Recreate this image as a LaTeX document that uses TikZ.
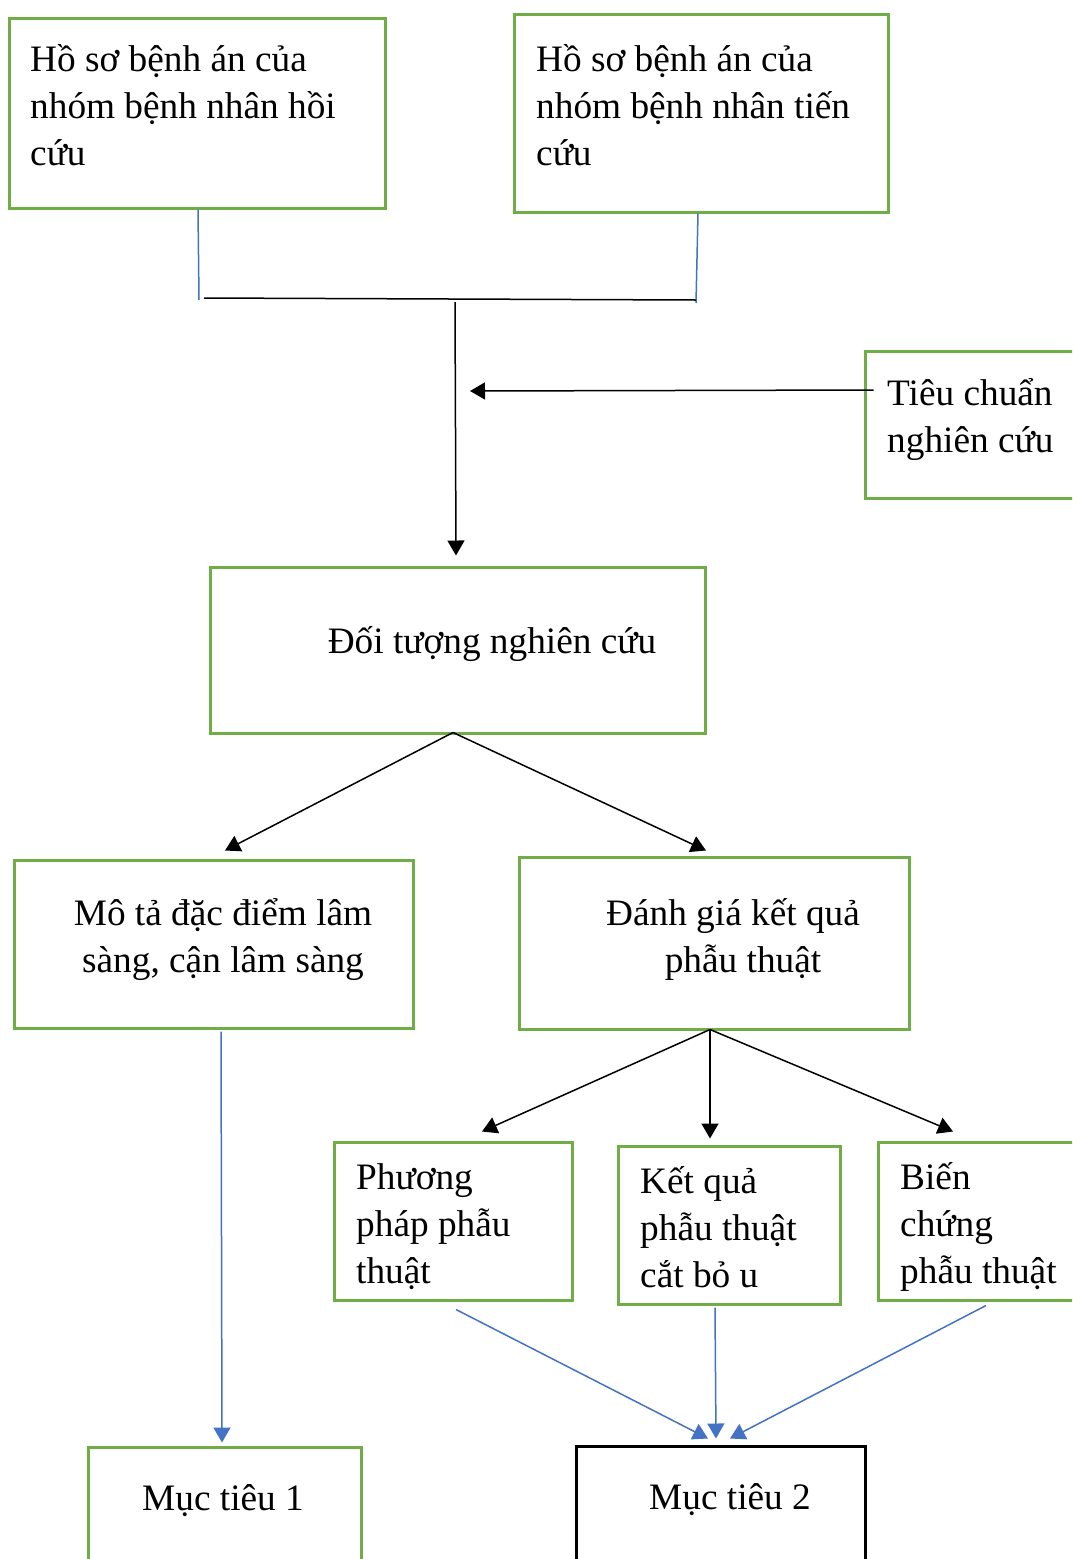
\documentclass[tikz,border=0pt]{standalone}
\usepackage{fontspec}
\setmainfont{Liberation Serif}
\usetikzlibrary{arrows.meta,calc}
\definecolor{gboxc}{HTML}{70AD47}
\definecolor{blinec}{HTML}{4472C4}
\tikzset{
  gbox/.style={draw=gboxc, line width=3pt, rectangle, inner sep=0pt},
  kbox/.style={draw=black, line width=3pt, rectangle, inner sep=0pt},
  txt/.style={inner sep=0pt, font=\fontsize{37.3}{47}\selectfont},
  kline/.style={draw=black, line width=1.5pt},
  bline/.style={draw=blinec, line width=1.5pt},
  karr/.style={kline, -{Triangle[length=15pt,width=17pt]}},
  barr/.style={bline, -{Triangle[length=15pt,width=17pt]}, blinec}
}
\begin{document}
\begin{tikzpicture}[x=1pt,y=1pt]
\useasboundingbox (0,0) rectangle (1072,-1559);
\clip (0,0) rectangle (1072,-1559);
% boxes
\node[gbox, minimum width=376pt, minimum height=190pt] (a) at (197,-113) {};
\node[gbox, minimum width=374pt, minimum height=198pt] (b) at (701,-113) {};
\node[gbox, minimum width=235pt, minimum height=147pt] (c) at (982.5,-424.5) {};
\node[gbox, minimum width=495pt, minimum height=166pt] (d) at (457.5,-650) {};
\node[gbox, minimum width=399pt, minimum height=168pt] (e) at (213.5,-944) {};
\node[gbox, minimum width=390pt, minimum height=172pt] (f) at (714,-943) {};
\node[gbox, minimum width=238pt, minimum height=158pt] (g) at (453,-1221) {};
\node[gbox, minimum width=222pt, minimum height=158pt] (h) at (729,-1225) {};
\node[gbox, minimum width=222pt, minimum height=158pt] (i) at (989,-1221) {};
\node[gbox, minimum width=273pt, minimum height=153pt] (j) at (224.5,-1523.5) {};
\node[kbox, minimum width=289pt, minimum height=154pt] (k) at (720.5,-1523) {};
% texts
\node[txt, anchor=base west] (ta) at (30,-71) {\parbox[t]{350pt}{\raggedright Hồ sơ bệnh án của\\nhóm bệnh nhân hồi\\cứu}};
\node[txt, anchor=base west] (tb) at (536,-71) {\parbox[t]{350pt}{\raggedright Hồ sơ bệnh án của\\nhóm bệnh nhân tiến\\cứu}};
\node[txt, anchor=base west] (tc) at (887,-405) {\parbox[t]{200pt}{\raggedright Tiêu chuẩn\\nghiên cứu}};
\node[txt, anchor=base] (td) at (492,-653) {Đối tượng nghiên cứu};
\node[txt, anchor=base] (te) at (223,-925) {\parbox[t]{390pt}{\centering Mô tả đặc điểm lâm\\sàng, cận lâm sàng}};
\node[txt, anchor=base] (tf) at (733,-925) {\parbox[t]{390pt}{\centering Đánh giá kết quả\\\hspace*{20pt}phẫu thuật}};
\node[txt, anchor=base west] (tg) at (356,-1189) {\parbox[t]{220pt}{\raggedright Phương\\pháp phẫu\\thuật}};
\node[txt, anchor=base west] (th) at (640,-1193) {\parbox[t]{220pt}{\raggedright Kết quả\\phẫu thuật\\cắt bỏ u}};
\node[txt, anchor=base west] (ti) at (900,-1189) {\parbox[t]{220pt}{\raggedright Biến\\chứng\\phẫu thuật}};
\node[txt, anchor=base] (tj) at (223,-1510) {Mục tiêu 1};
\node[txt, anchor=base] (tk) at (730,-1509) {Mục tiêu 2};
% junction coordinates
\coordinate (j1) at (199,-300);
\coordinate (j2) at (696,-303);
\coordinate (h1) at (204,-298);
\coordinate (h2) at (696,-300);
\coordinate (m) at (455,-302);
\coordinate (cend) at (470,-391);
% connectors
\draw[bline] ($(a.south)+(1,0)$) -- (j1);
\draw[bline] ($(b.south)+(-3,0)$) -- (j2);
\draw[kline] (h1) -- (h2);
\draw[karr] (m) -- ($(d.north)+(-1.5,10)$);
\draw[karr] ($(c.west)+(10,34.5)$) -- (cend);
\draw[karr] ($(d.south)+(-4.5,2)$) -- ($(e.north)+(11.5,8)$);
\draw[karr] ($(d.south)+(-4.5,2)$) -- ($(f.north)+(-8,5)$);
\draw[karr] ($(f.south)+(-4,1)$) -- ($(g.north)+(29,9)$);
\draw[karr] ($(f.south)+(-4,1)$) -- ($(h.north)+(-19,6)$);
\draw[karr] ($(f.south)+(-4,1)$) -- ($(i.north)+(-36,9)$);
\draw[barr] ($(e.south)+(7.5,-2)$) -- ($(j.north)+(-2.5,3)$);
\draw[barr] ($(g.south)+(3,-8)$) -- ($(k.north)+(-12.5,6)$);
\draw[barr] ($(h.south)+(-14,-2)$) -- ($(k.north)+(-4.5,6)$);
\draw[barr] ($(i.south)+(-3,-4)$) -- ($(k.north)+(9.5,6)$);
\end{tikzpicture}
\end{document}
